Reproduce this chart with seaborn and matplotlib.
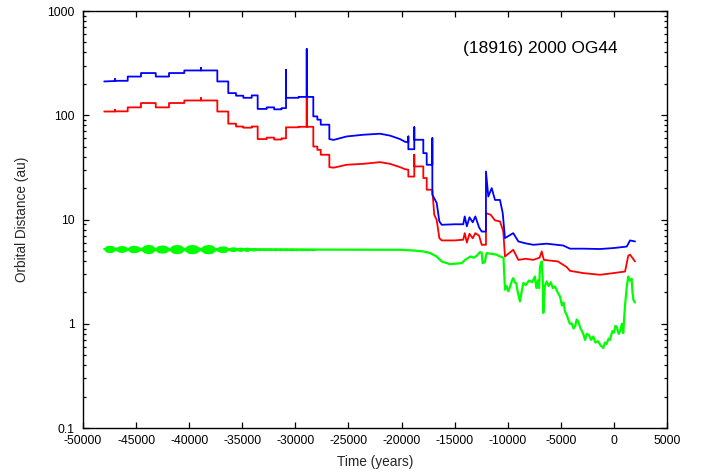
import numpy as np
import pandas as pd
import matplotlib
matplotlib.use("Agg")
import matplotlib.pyplot as plt
import seaborn as sns
from matplotlib.ticker import FixedLocator, LogLocator, NullFormatter, FuncFormatter

sns.set_style("ticks")
plt.rcParams['font.family'] = ['Liberation Sans', 'DejaVu Sans']

# ---------------- data ----------------
# Aphelion distance (blue)
blue_x = [-48000, -46990, -46990, -46990, -45790, -45790, -44540, -44540, -43150, -43150,
          -41900, -41900, -40460, -40460, -38890, -38890, -38890, -37350, -37350, -36320,
          -36320, -35590, -35590, -34900, -34900, -34110, -34110, -33550, -33550, -32700,
          -32700, -32000, -32000, -31300, -31300, -30880, -30880, -30880, -29700, -29700,
          -28930, -28930, -28930, -28310, -28310, -27930, -27930, -27610, -27610, -26800,
          -26800, -26400, -25170, -23600, -22030, -21090, -20150, -19680, -19360, -19360,
          -19360, -18800, -18800, -18800, -17950, -17950, -17630, -17630, -17100, -17100,
          -17100, -16690, -16440, -16220, -15000, -14190, -14050, -13850, -13600, -13300,
          -13050, -12700, -12450, -12050, -12050, -11830, -11510, -11200, -10730, -10470,
          -10260, -9480, -9000, -8300, -7590, -6330, -4770, -4140, -2880, -1310,
          -60, 1210, 1520, 1990]
blue_y = [211, 213, 222, 214, 214, 235, 235, 254, 254, 235,
          235, 254, 254, 269, 269, 285, 269, 269, 211, 211,
          163, 163, 154, 154, 147, 147, 155, 155, 115, 115,
          119, 119, 114, 114, 117, 117, 273, 147, 147, 150,
          150, 432, 150, 150, 97.5, 97.5, 90.7, 90.7, 81.2, 81.2,
          59.1, 58, 62.6, 65, 66.5, 63.8, 59.1, 55.7, 55, 62.6,
          47.2, 47.2, 76.9, 58.2, 58.2, 43.3, 43.3, 33.5, 33.5, 60.2,
          17.3, 14.4, 9.6, 8.9, 9.0, 9.0, 10.7, 8.6, 10.5, 9.4,
          10.7, 8.4, 7.66, 7.66, 28.9, 16.6, 20.0, 15.4, 15.4, 11.5,
          6.63, 7.4, 6.16, 5.9, 5.72, 5.86, 5.63, 5.25, 5.25, 5.21,
          5.32, 5.5, 6.3, 6.16]

# Semi-major axis (red)
red_x = [-48000, -46990, -46990, -46990, -45790, -45790, -44540, -44540, -43150, -43150,
         -41900, -41900, -40460, -40460, -38890, -38890, -38890, -37350, -37350, -36320,
         -36320, -35590, -35590, -34900, -34900, -34110, -34110, -33550, -33550, -32700,
         -32700, -32000, -32000, -31300, -31300, -30880, -30880, -29700, -29700, -28930,
         -28930, -28930, -28310, -28310, -27930, -27930, -27610, -27610, -26800, -26800,
         -26400, -25170, -23600, -22030, -21090, -20150, -19680, -19360, -19360, -18800,
         -18800, -18800, -17950, -17950, -17630, -17630, -17100, -16920, -16690, -16440,
         -16220, -15000, -14190, -14050, -13850, -13600, -13300, -13050, -12700, -12450,
         -12050, -12050, -11600, -11200, -10730, -10420, -10260, -9480, -9000, -8300,
         -7600, -7000, -6800, -6600, -5280, -4450, -4140, -2880, -1310, -60,
         1050, 1350, 1520, 1990]
red_y = [108.6, 108.6, 113, 109, 109, 119, 119, 131, 131, 119,
         119, 131, 131, 138.6, 138.6, 146, 138.6, 138.6, 108.6, 108.6,
         83, 83, 78, 78, 76, 76, 78, 78, 59.1, 59.1,
         61, 61, 58.5, 58.5, 60, 60, 76.6, 76.6, 77.5, 77.5,
         146, 77.5, 77.5, 50.1, 50.1, 46.6, 46.6, 41.8, 41.8, 31.8,
         31.4, 33.5, 34.2, 35.5, 34.2, 31.8, 30.4, 30, 25.8, 25.8,
         41.8, 32.3, 32.3, 25, 25, 19.3, 19.3, 11.1, 9.9, 6.63,
         6.3, 6.3, 6.4, 7.4, 6.0, 7.3, 6.6, 7.4, 7.0, 5.72,
         5.72, 11.5, 11.1, 9.8, 9.6, 7.7, 4.42, 5.12, 4.1, 4.2,
         4.1, 4.3, 4.94, 4.1, 3.96, 3.5, 3.22, 3.06, 2.95, 3.06,
         3.17, 4.49, 4.6, 3.96]

# Perihelion distance (green)
green_x = [-48000, -33500, -28300, -24000, -20150, -19000, -17950, -17300, -16700, -16220,
           -15750, -15440, -14500, -14340, -14000, -13500, -13200, -12900, -12610, -12450,
           -12365, -12150, -11990, -11050, -10730, -10400, -10256, -10100, -9950, -9790,
           -9600, -9475, -9350, -9200, -9050, -8850, -8700, -8530, -8300, -8000,
           -7700, -7440, -7300, -7150, -7050, -6960, -6800, -6700, -6650, -6500,
           -6330, -6150, -5950, -5750, -5550, -5300, -5080, -4900, -4750, -4600,
           -4450, -4300, -4150, -3980, -3800, -3650, -3500, -3350, -3150, -3000,
           -2850, -2720, -2550, -2350, -2150, -1940, -1750, -1500, -1250, -1000,
           -850, -700, -500, -370, -150, 0, 130, 260, 450, 600,
           750, 880, 960, 1040, 1200, 1350, 1500, 1670, 1750, 1830,
           1990]
green_y = [5.22, 5.18, 5.15, 5.13, 5.12, 5.05, 4.94, 4.76, 4.42, 3.96,
           3.82, 3.73, 3.8, 3.82, 4.1, 4.42, 4.3, 4.5, 4.87, 4.8,
           3.82, 3.9, 4.76, 4.6, 4.42, 4.3, 2.12, 2.3, 2.05, 2.25,
           2.6, 2.74, 2.5, 2.45, 2.0, 1.64, 2.0, 2.46, 2.35, 2.6,
           2.5, 2.84, 2.2, 2.6, 2.2, 3.55, 3.96, 2.6, 1.27, 2.3,
           2.55, 2.3, 2.5, 2.2, 2.28, 2.0, 1.83, 1.5, 1.6, 1.3,
           1.22, 1.1, 1.0, 1.01, 0.9, 0.95, 1.1, 1.05, 0.9, 0.85,
           0.78, 0.70, 0.8, 0.78, 0.7, 0.755, 0.66, 0.68, 0.62, 0.585,
           0.66, 0.64, 0.72, 0.70, 0.85, 0.82, 0.95, 0.94, 0.8, 0.85,
           1.0, 0.814, 1.1, 1.47, 2.2, 2.84, 2.6, 2.7, 2.0, 1.70,
           1.6]

# Envelope half-thickness (in decades) of the fast perihelion oscillation
green_env_x = [-48000, -47800, -47520, -47230, -46940, -46650, -46360, -46080, -45810, -45540,
               -45260, -44900, -44550, -44200, -43850, -43530, -43220, -42900, -42590, -42230,
               -41880, -41530, -41180, -40820, -40470, -40110, -39760, -39370, -38980, -38590,
               -38200, -37850, -37500, -37150, -36790, -36550, -36320, -36080, -35850, -35690,
               -35530, -35370, -35210, -35050, -34900, -34740, -34580, -34420, -34270, -34110,
               -33960, -33800, -33650, -33400, -33150, -32900, -32650, -32400, -32150, -31900,
               -31650, -31400, -31150, -30900, -30650, -30400, -30150, -29900, -29650, -29400,
               -29150, -28900, -28650, -28400, -28150]
green_env_h = [0.0, 0.024, 0.029, 0.024, 0.004, 0.022, 0.027, 0.022, 0.004, 0.024,
               0.029, 0.024, 0.004, 0.032, 0.038, 0.032, 0.004, 0.027, 0.033, 0.027,
               0.004, 0.032, 0.038, 0.032, 0.004, 0.032, 0.038, 0.032, 0.004, 0.032,
               0.038, 0.032, 0.004, 0.022, 0.026, 0.021, 0.002, 0.014, 0.017, 0.014,
               0.002, 0.012, 0.014, 0.012, 0.001, 0.012, 0.014, 0.012, 0.001, 0.009,
               0.010, 0.008, 0.0, 0.007, 0.0, 0.007, 0.0, 0.007, 0.0, 0.007,
               0.0, 0.007, 0.0, 0.007, 0.0, 0.007, 0.0, 0.006, 0.0, 0.006,
               0.0, 0.006, 0.0, 0.005, 0.0]

x_ticks = [-50000, -45000, -40000, -35000, -30000, -25000, -20000, -15000, -10000, -5000, 0, 5000]
y_ticks = [0.1, 1, 10, 100, 1000]
title_text = "(18916) 2000 OG44"

# ---------------- figure ----------------
fig = plt.figure(figsize=(7.08, 4.73), dpi=100)
ax = fig.add_axes([83 / 708, 1 - 428 / 473, 584 / 708, 417 / 473])

blue_df = pd.DataFrame({"x": blue_x, "y": blue_y})
red_df = pd.DataFrame({"x": red_x, "y": red_y})
green_df = pd.DataFrame({"x": green_x, "y": green_y})

env_mid = np.interp(green_env_x, green_x, green_y)
env_h = np.array(green_env_h)
ax.fill_between(green_env_x, env_mid / 10 ** env_h, env_mid * 10 ** env_h,
                color="#00ff00", lw=1.0, edgecolor="#00ff00")

sns.lineplot(data=green_df, x="x", y="y", sort=False, estimator=None,
             color="#00ff00", lw=1.6, ax=ax)
sns.lineplot(data=red_df, x="x", y="y", sort=False, estimator=None,
             color="#ff0000", lw=1.3, ax=ax)
sns.lineplot(data=blue_df, x="x", y="y", sort=False, estimator=None,
             color="#0000ff", lw=1.3, ax=ax)

ax.set_yscale("log")
ax.set_xlim(-50000, 5000)
ax.set_ylim(0.1, 1000)

ax.xaxis.set_major_locator(FixedLocator(x_ticks))
ax.xaxis.set_major_formatter(FuncFormatter(lambda v, p: "%d" % v))
ax.yaxis.set_major_locator(FixedLocator(y_ticks))
ax.yaxis.set_major_formatter(FuncFormatter(lambda v, p: "%g" % v))
ax.yaxis.set_minor_locator(LogLocator(base=10, subs=np.arange(2, 10)))
ax.yaxis.set_minor_formatter(NullFormatter())

ax.tick_params(which="both", direction="in", top=True, right=True,
               color="black", width=0.9, labelsize=8.7, labelcolor="black")
ax.tick_params(which="major", length=4.5)
ax.tick_params(axis="x", which="major", pad=5)
ax.tick_params(axis="y", which="major", pad=6)
ax.tick_params(which="minor", length=2.5)

for s in ax.spines.values():
    s.set_visible(True)
    s.set_color("black")
    s.set_linewidth(1.0)

ax.set_xlabel("Time (years)", fontsize=9.8)
ax.set_ylabel("Orbital Distance (au)", fontsize=9.8)
ax.xaxis.label.set_va("center")
ax.yaxis.label.set_va("center")
ax.xaxis.set_label_coords(0.5, -0.0815)
ax.yaxis.set_label_coords(-0.105, 0.5)

ax.text(0.65, 0.911, title_text, transform=ax.transAxes, fontsize=12.5,
        ha="left", va="center", color="black")

ax.set_facecolor("white")
fig.patch.set_facecolor("white")
fig.savefig("out.png", dpi=100)
